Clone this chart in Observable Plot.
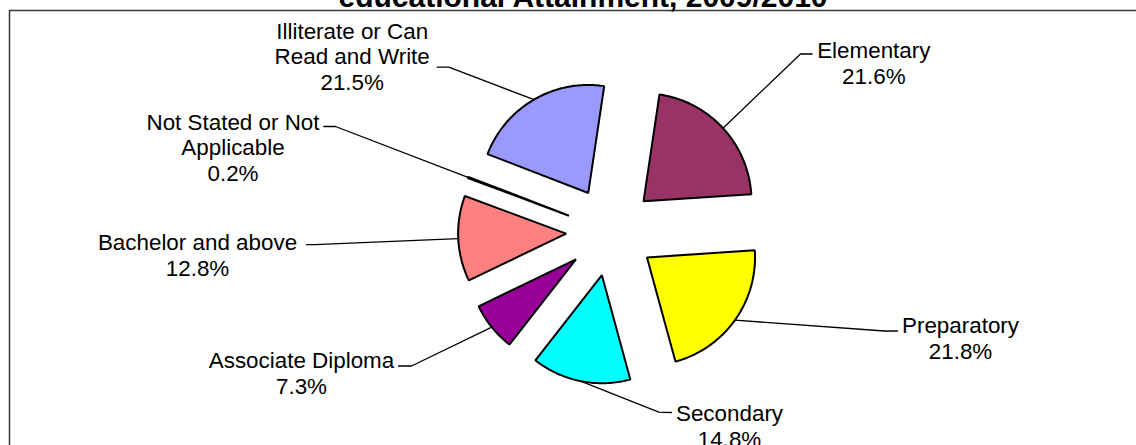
<!DOCTYPE html>
<html><head><meta charset="utf-8">
<script src="https://cdn.jsdelivr.net/npm/d3@7"></script>
<script src="https://cdn.jsdelivr.net/npm/@observablehq/plot@0.6"></script>
<style>html,body{margin:0;padding:0;background:#fff;}</style>
</head><body><div id="chart"></div>
<script>
// ---- data ----
const categories = ["Elementary", "Preparatory", "Secondary", "Associate Diploma", "Bachelor and above", "Not Stated or Not Applicable", "Illiterate or Can Read and Write"];
const labelTexts = ["Elementary", "Preparatory", "Secondary", "Associate Diploma", "Bachelor and above", "Not Stated or Not\nApplicable", "Illiterate or Can\nRead and Write"];
const shares = [21.6, 21.8, 14.8, 7.3, 12.8, 0.2, 21.5];
const colors = ["#993366", "#FFFF00", "#00FFFF", "#990099", "#FF8080", "#0066CC", "#9999FF"];
const titleText = "educational Attainment, 2009/2010";

// ---- layout ----
const W = 1136, H = 445;
const R = 108, CX = 610.2, CY = 231;      // pie radius & centre (px)
const explode = 44.6 / R;                  // explosion, in radius units
const firstAngle = 8.5 * Math.PI / 180;
const margin = {left: 9, top: 10, right: -20, bottom: -20};
const fontSize = 22.4, lineH = 25.7;
// label layout in px: [textCentreX, firstBaselineY, elbowX, elbowY, endX, endY]
const labelLayout = [
  [873.3, 55, 800, 53.5, 811.7, 53.5],
  [960, 330, 884, 330.5, 897, 330.5],
  [729, 418.5, 658.3, 411.7, 671, 412],
  [301, 365, 411, 365.5, 398, 365.5],
  [197, 247.3, 314, 244.2, 306, 244.2],
  [232.5, 126.7, 335, 126, 323.3, 126],
  [351.7, 35.7, 448.3, 66.7, 436.7, 66.7]
];
const ux = px => (px - CX) / R;
const uy = py => (CY - py) / R;

// ---- geometry from data ----
const arcs = d3.pie().sort(null).value(d => d)
  .startAngle(firstAngle).endAngle(firstAngle + 2 * Math.PI)(shares);

const slicePts = [];
const leaderPts = [];
const labels = [];
arcs.forEach((a, i) => {
  const name = categories[i];
  const mid = (a.startAngle + a.endAngle) / 2;
  const ox = explode * Math.sin(mid), oy = explode * Math.cos(mid);
  slicePts.push({name, x: ox, y: oy});
  const n = Math.max(2, Math.ceil((a.endAngle - a.startAngle) / (Math.PI / 180)));
  for (let k = 0; k <= n; k++) {
    const t = a.startAngle + (a.endAngle - a.startAngle) * k / n;
    slicePts.push({name, x: ox + Math.sin(t), y: oy + Math.cos(t)});
  }
  const L = labelLayout[i];
  leaderPts.push({name, x: ox + Math.sin(mid), y: oy + Math.cos(mid)});
  leaderPts.push({name, x: ux(L[2]), y: uy(L[3])});
  leaderPts.push({name, x: ux(L[4]), y: uy(L[5])});
  labels.push({name, x: ux(L[0]), y: uy(L[1]), text: `${labelTexts[i]}\n${shares[i].toFixed(1)}%`});
});

const chart = Plot.plot({
  width: W, height: H,
  marginLeft: margin.left, marginTop: margin.top, marginRight: margin.right, marginBottom: margin.bottom,
  x: {domain: [ux(margin.left), ux(W - margin.right)], axis: null},
  y: {domain: [uy(H - margin.bottom), uy(margin.top)], axis: null},
  color: {domain: categories, range: colors},
  style: {fontFamily: "'Liberation Sans', Arial, sans-serif", background: "white", overflow: "hidden"},
  marks: [
    Plot.frame({stroke: "#383838", strokeWidth: 1.5}),
    Plot.text([titleText], {frameAnchor: "top", text: d => d, fontSize: 30, fontWeight: "bold",
      fill: "black", lineAnchor: "top", dy: -3.5 - 0.71 * 30}),
    Plot.line(leaderPts, {x: "x", y: "y", z: "name", stroke: "black", strokeWidth: 1.3, strokeLinejoin: "miter"}),
    Plot.line(slicePts, {x: "x", y: "y", z: "name", fill: "name", stroke: "black", strokeWidth: 2,
      strokeLinejoin: "miter", curve: "linear-closed"}),
    Plot.text(labels, {x: "x", y: "y", text: "text", fontSize, fill: "black", lineAnchor: "top",
      lineHeight: lineH / fontSize, dy: -0.71 * fontSize})
  ]
});
document.getElementById("chart").appendChild(chart);
</script>
</body></html>
